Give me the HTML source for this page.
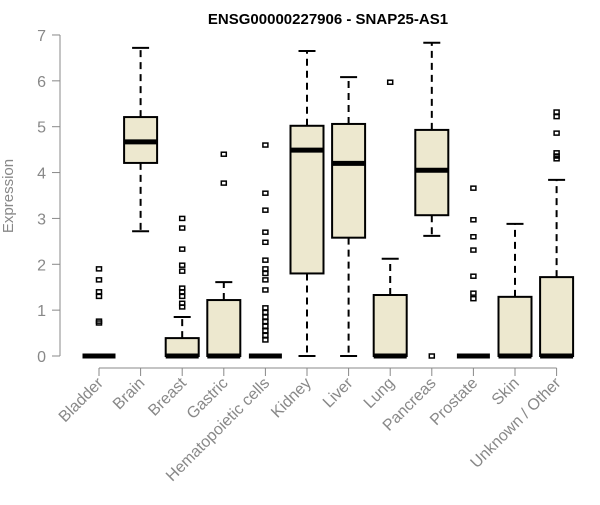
<!DOCTYPE html>
<html><head><meta charset="utf-8"><style>
body{margin:0;background:#fff}
svg text{font-family:"Liberation Sans",sans-serif}
</style></head><body>
<svg id="c" width="600" height="500" xmlns="http://www.w3.org/2000/svg">
<text x="328" y="24" text-anchor="middle" font-size="15" font-weight="bold" fill="#000">ENSG00000227906 - SNAP25-AS1</text>
<text transform="translate(13,196) rotate(-90)" text-anchor="middle" font-size="15" fill="#888">Expression</text>
<g id="g"></g>
</svg>
<script>
const categories=["Bladder","Brain","Breast","Gastric","Hematopoietic cells","Kidney","Liver","Lung","Pancreas","Prostate","Skin","Unknown / Other"];
const lowW=[0,2.72,0,0,0,0,0,0,2.62,0,0,0];
const q1=[0,4.21,0,0,0,1.8,2.58,0,3.07,0,0,0];
const med=[0,4.67,0,0,0,4.49,4.2,0,4.05,0,0,0];
const q3=[0,5.21,0.39,1.22,0,5.02,5.06,1.33,4.93,0,1.29,1.72];
const highW=[0,6.72,0.85,1.61,0,6.65,6.08,2.12,6.83,0,2.88,3.84];
const outliers=[[1.9,1.66,1.4,1.3,0.76,0.72],[],[3.0,2.79,2.33,1.98,1.85,1.48,1.4,1.3,1.15,1.07],[4.4,3.77],[4.6,3.55,3.18,2.7,2.48,2.09,1.9,1.8,1.66,1.44,1.05,0.95,0.85,0.75,0.65,0.55,0.45,0.35],[],[],[5.97],[0],[3.66,2.97,2.6,2.31,1.74,1.37,1.25],[],[5.32,5.22,4.86,4.43,4.36,4.3]];
const yTicks=[0,1,2,3,4,5,6,7];
const NS="http://www.w3.org/2000/svg";
const g=document.getElementById('g');
const y=v=>356-v*45.86;
const x=i=>99+i*41.6;
function mk(t,a){const e=document.createElementNS(NS,t);for(const k in a)e.setAttribute(k,a[k]);g.appendChild(e);return e;}
let ax=mk('line',{x1:60,y1:y(0),x2:60,y2:y(7),stroke:'#888','stroke-width':1});


yTicks.forEach(t=>{
 const l=mk('line',{x1:52,x2:60,y1:y(t),y2:y(t),stroke:'#888'});
 
 
 const tx=mk('text',{x:46,y:y(t)+6,'text-anchor':'end','font-size':16,fill:'#888'});
 tx.textContent=t;
 
 
});
let xa=mk('line',{x1:x(0),x2:x(11),y1:368,y2:368,stroke:'#888'});


categories.forEach((c,i)=>{
 const cx=x(i),hw=16.5;
 const tk=mk('line',{x1:cx,x2:cx,y1:368,y2:376,stroke:'#888'});
 
 
 const lb=mk('text',{transform:`translate(${cx+5},${384}) rotate(-45)`,'text-anchor':'end','font-size':16,fill:'#888'});
 lb.textContent=c;
 
 
 const wl=mk('line',{x1:cx,x2:cx,y1:y(q3[i]),y2:y(highW[i]),stroke:'#000','stroke-width':2,'stroke-dasharray':'7,5'});
 
 
 const wl2=mk('line',{x1:cx,x2:cx,y1:y(q1[i]),y2:y(lowW[i]),stroke:'#000','stroke-width':2,'stroke-dasharray':'7,5'});
 
 
 if(highW[i]>q3[i]){const c1=mk('line',{x1:cx-8.5,x2:cx+8.5,y1:y(highW[i]),y2:y(highW[i]),stroke:'#000','stroke-width':2});
 
 }
 if(lowW[i]<q1[i]){const c2=mk('line',{x1:cx-8.5,x2:cx+8.5,y1:y(lowW[i]),y2:y(lowW[i]),stroke:'#000','stroke-width':2});
 
 }
 if(q3[i]>q1[i]){const b=mk('rect',{x:cx-hw,y:y(q3[i]),width:2*hw,height:y(q1[i])-y(q3[i]),fill:'#ede8cf',stroke:'#000','stroke-width':2});
 
 }
 const m=mk('line',{x1:cx-hw,x2:cx+hw,y1:y(med[i]),y2:y(med[i]),stroke:'#000','stroke-width':5});
 
 
 outliers[i].forEach(v=>{
  const o=mk('rect',{x:cx-2.5,y:y(v)-2,width:5,height:4,fill:'none',stroke:'#000','stroke-width':1.5});
  
  
 });
});
</script>
</body></html>
